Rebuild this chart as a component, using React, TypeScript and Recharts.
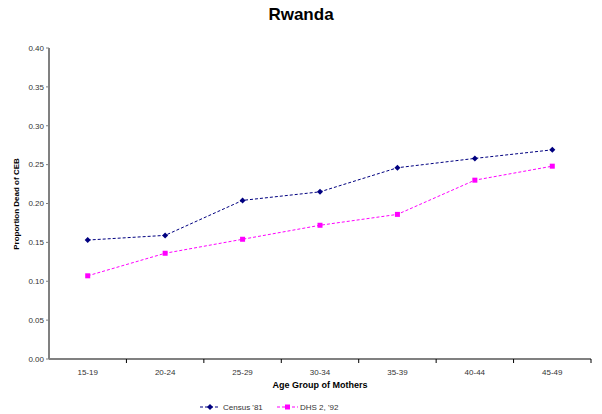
import { LineChart, Line, XAxis, YAxis } from 'recharts'

const ageGroups = ['15-19', '20-24', '25-29', '30-34', '35-39', '40-44', '45-49']
const census81 = [0.153, 0.159, 0.204, 0.215, 0.246, 0.258, 0.269]
const dhs92 = [0.107, 0.136, 0.154, 0.172, 0.186, 0.23, 0.248]
const yTicks = [0, 0.05, 0.1, 0.15, 0.2, 0.25, 0.3, 0.35, 0.4]

const data = ageGroups.map((g, i) => ({ group: g, census: census81[i], dhs: dhs92[i] }))

const FONT = 'Arial, "Liberation Sans", sans-serif'
const PLOT_LEFT = 49
const PLOT_RIGHT = 591
const BAND = (PLOT_RIGHT - PLOT_LEFT) / ageGroups.length

function XTick(props: any) {
  const { x, y, payload } = props
  return (
    <g>
      <line x1={x + BAND / 2} y1={y} x2={x + BAND / 2} y2={y + 4} stroke="#000" strokeWidth={1} />
      <text x={x} y={y + 16} textAnchor="middle" fontSize={8} fill="#333" fontFamily={FONT}>
        {payload.value}
      </text>
    </g>
  )
}

function Diamond(props: any) {
  const { cx, cy } = props
  if (cx == null || cy == null) return null
  return <path d={`M${cx},${cy - 3}L${cx + 3},${cy}L${cx},${cy + 3}L${cx - 3},${cy}Z`} fill="#000080" />
}

function Square(props: any) {
  const { cx, cy } = props
  if (cx == null || cy == null) return null
  return <rect x={cx - 2.5} y={cy - 2.5} width={5} height={5} fill="#ff00ff" />
}

export default function App() {
  return (
    <div style={{ position: 'absolute', left: 0, top: 0, width: 602, height: 414, background: '#fff' }}>
      <div
        style={{
          position: 'absolute',
          top: 5,
          width: 602,
          textAlign: 'center',
          fontFamily: FONT,
          fontWeight: 'bold',
          fontSize: 17,
        }}
      >
        Rwanda
      </div>
      <LineChart
        width={602}
        height={414}
        data={data}
        margin={{ top: 48, right: 602 - PLOT_RIGHT, left: 0, bottom: 30 }}
      >
        <XAxis
          dataKey="group"
          height={25}
          padding={{ left: BAND / 2, right: BAND / 2 }}
          axisLine={{ stroke: '#808080', strokeWidth: 2 }}
          tickLine={false}
          tickSize={0}
          tickMargin={0}
          tick={<XTick />}
          interval={0}
          label={{
            content: () => (
              <text x={320} y={388} textAnchor="middle" fontSize={9} fontWeight="bold" fill="#000" fontFamily={FONT}>
                Age Group of Mothers
              </text>
            ),
          }}
        />
        <YAxis
          width={PLOT_LEFT}
          domain={[0, 0.4]}
          ticks={yTicks}
          interval={0}
          tickFormatter={(v: number) => v.toFixed(2)}
          axisLine={{ stroke: '#808080', strokeWidth: 2 }}
          tickLine={{ stroke: '#808080' }}
          tickSize={3}
          tick={{ fontSize: 8, fill: '#333', fontFamily: FONT }}
          label={{
            content: () => (
              <text
                transform="translate(19,204) rotate(-90)"
                textAnchor="middle"
                fontSize={8}
                fontWeight="bold"
                fill="#000"
                fontFamily={FONT}
              >
                Proportion Dead of CEB
              </text>
            ),
          }}
        />
        <Line
          type="linear"
          dataKey="census"
          stroke="#000080"
          strokeWidth={1}
          strokeDasharray="3 2"
          dot={<Diamond />}
          isAnimationActive={false}
        />
        <Line
          type="linear"
          dataKey="dhs"
          stroke="#ff00ff"
          strokeWidth={1}
          strokeDasharray="3 2"
          dot={<Square />}
          isAnimationActive={false}
        />
      </LineChart>
      <svg style={{ position: 'absolute', left: 0, top: 400 }} width={602} height={14}>
        <line x1={200} y1={7} x2={220} y2={7} stroke="#000080" strokeDasharray="3 2" />
        <path d="M210,4L213,7L210,10L207,7Z" fill="#000080" />
        <text x={223} y={10} fontSize={8} fill="#333" fontFamily={FONT}>
          Census '81
        </text>
        <line x1={277} y1={7} x2={298} y2={7} stroke="#ff00ff" strokeDasharray="3 2" />
        <rect x={285} y={4.5} width={5} height={5} fill="#ff00ff" />
        <text x={300} y={10} fontSize={8} fill="#333" fontFamily={FONT}>
          DHS 2, '92
        </text>
      </svg>
    </div>
  )
}
